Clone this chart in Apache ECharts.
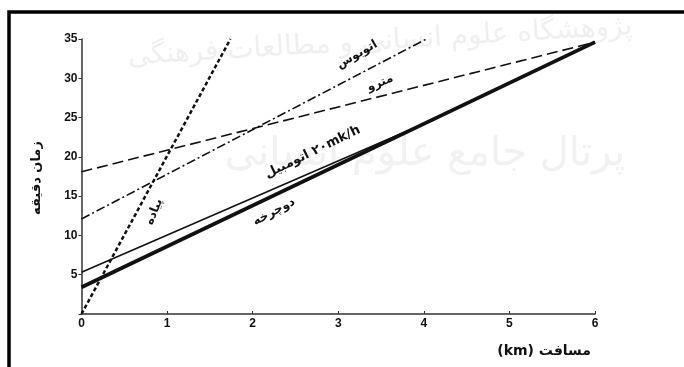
<!DOCTYPE html>
<html>
<head>
<meta charset="utf-8">
<script src="https://cdn.jsdelivr.net/npm/echarts@6/dist/echarts.min.js"></script>
<style>
html,body{margin:0;padding:0;background:#fff;}
#c{width:684px;height:367px;}
</style>
</head>
<body>
<div id="c"></div>
<script>
// ---- data (distance km -> time minutes) ----
var xTicks = [0, 1, 2, 3, 4, 5, 6];
var yTicks = [0, 5, 10, 15, 20, 25, 30, 35];

var walkX  = [0, 1.74];   var walkY  = [0, 35];      // پیاده
var busX   = [0, 4.03];   var busY   = [12.1, 35];   // اتوبوس
var metroX = [0, 6];      var metroY = [18.1, 34.6]; // مترو
var carX   = [0, 4];      var carY   = [5.3, 24.2];  // اتومبیل
var bikeX  = [0, 6];      var bikeY  = [3.4, 34.6];  // دوچرخه

var xName = "(km) مسافت";
var yName = "زمان دقیقه";
var lblWalk = "پیاده", lblBus = "اتوبوس", lblMetro = "مترو",
    lblCar = "اتومبیل\u200E ۲۰mk/h", lblBike = "دوچرخه";

function pairs(xs, ys){ return xs.map(function(x,i){ return [x, ys[i]]; }); }

var ink = '#111';
var chart = echarts.init(document.getElementById('c'));
function lineSeries(name, xs, ys, width, type){
  return { name: name, type: 'line', data: pairs(xs, ys), symbol: 'none', silent: true,
           lineStyle: { color: ink, width: width, type: type, cap: 'butt' }, z: 5 };
}
chart.setOption({
  animation: false,
  backgroundColor: '#fff',
  grid: { left: 81.5, right: 89, top: 39, bottom: 53 },
  xAxis: {
    type: 'value', min: 0, max: 6, interval: 1,
    axisLine: { lineStyle: { color: '#333', width: 1.5 } },
    axisTick: { show: true, inside: true, length: 3, lineStyle: { color: '#333' } },
    splitLine: { show: false },
    axisLabel: { color: ink, fontFamily: 'Liberation Sans', fontWeight: 'bold', fontSize: 12, margin: 4 }
  },
  yAxis: {
    type: 'value', min: 0, max: 35, interval: 5,
    axisLine: { show: true, lineStyle: { color: '#333', width: 1.5 } },
    axisTick: { show: true, inside: false, length: 3, lineStyle: { color: '#333' } },
    splitLine: { show: false },
    axisLabel: { color: ink, fontFamily: 'Liberation Sans', fontWeight: 'bold', fontSize: 12, margin: 4,
      formatter: function(v){ return v === 0 ? '' : String(v); } }
  },
  series: [
    lineSeries('walk', walkX, walkY, 2.5, [4, 2.5]),
    lineSeries('bus', busX, busY, 1.6, [9, 3, 2, 3]),
    lineSeries('metro', metroX, metroY, 1.6, [11, 5]),
    lineSeries('car', carX, carY, 1.6, 'solid'),
    lineSeries('bike', bikeX, bikeY, 3.8, 'solid')
  ]
});

function px(x, y){ return chart.convertToPixel({ gridIndex: 0 }, [x, y]); }
function lab(text, x, y, deg, size){
  var p = px(x, y);
  return { type: 'text', x: p[0], y: p[1], rotation: deg * Math.PI / 180, z: 10,
    style: { text: text, fill: ink, font: 'bold ' + (size || 12) + 'px "DejaVu Sans"',
             align: 'center', verticalAlign: 'middle' } };
}
chart.setOption({
  graphic: [
    // scan border
    { type: 'rect', shape: { x: 9, y: 12, width: 690, height: 400 }, z: 20, silent: true,
      style: { fill: 'none', stroke: '#000', lineWidth: 3.5 } },
    // watermark
    { type: 'text', x: 380, y: 42, rotation: 0.06, z: -5, silent: true,
      style: { text: 'پژوهشگاه علوم انسانی و مطالعات فرهنگی', fill: '#efefef',
               font: '28px "DejaVu Sans"', align: 'center', verticalAlign: 'middle' } },
    { type: 'text', x: 425, y: 155, z: -5, silent: true,
      style: { text: 'پرتال جامع علوم انسانی', fill: '#f1f1f1',
               font: '40px "DejaVu Sans"', align: 'center', verticalAlign: 'middle' } },
    lab(lblBus, 3.22, 33.0, 30, 12),
    lab(lblMetro, 3.49, 29.4, 22, 12),
    lab(lblCar, 2.70, 20.6, 26, 13),
    lab(lblBike, 2.25, 13.0, 28, 12),
    lab(lblWalk, 0.85, 13.0, 68, 12),
    { type: 'text', x: 591, y: 351, z: 10,
      style: { text: xName, fill: ink, font: 'bold 14px "DejaVu Sans"', align: 'right', verticalAlign: 'middle' } },
    { type: 'text', x: 37, y: 178, rotation: Math.PI / 2, z: 10,
      style: { text: yName, fill: ink, font: 'bold 13px "DejaVu Sans"', align: 'center', verticalAlign: 'middle' } }
  ]
});
</script>
</body>
</html>
